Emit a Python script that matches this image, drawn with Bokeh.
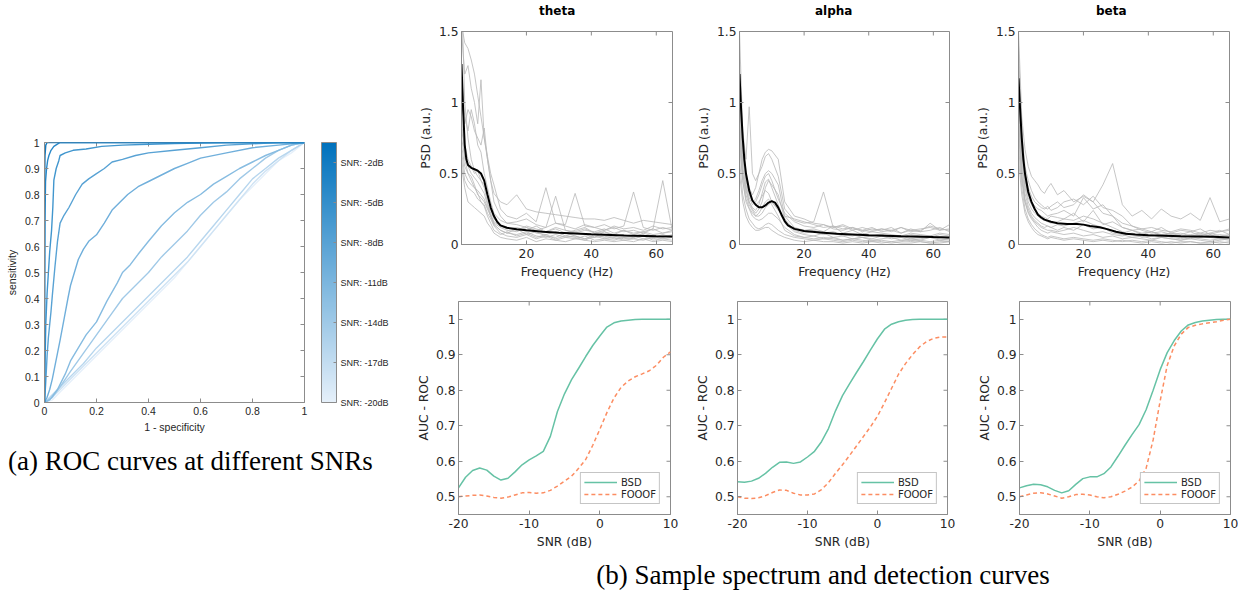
import numpy as np
from bokeh.plotting import figure
from bokeh.models import (Range1d, FixedTicker, NumeralTickFormatter, ColorBar,
                          LinearColorMapper, Div, Spacer, Legend, LegendItem, ColumnDataSource)
from bokeh.layouts import row, column
from bokeh.transform import linear_cmap
from bokeh.embed import file_html
from bokeh.resources import INLINE

# ---------------- data: ROC curves ----------------
roc_snr = [-20, -18, -16, -14, -12, -10, -8, -6, -4, -2]
roc_fpr = [
    [0, 0.03, 0.06, 0.1, 0.15, 0.2, 0.25, 0.3, 0.35, 0.4, 0.45, 0.5, 0.55, 0.6, 0.65, 0.7, 0.75, 0.8, 0.85, 0.9, 0.95, 1],
    [0, 0.03, 0.06, 0.1, 0.15, 0.2, 0.25, 0.3, 0.35, 0.4, 0.45, 0.5, 0.55, 0.6, 0.65, 0.7, 0.75, 0.8, 0.85, 0.9, 0.95, 1],
    [0, 0.03, 0.06, 0.1, 0.15, 0.2, 0.25, 0.3, 0.35, 0.4, 0.45, 0.5, 0.55, 0.6, 0.65, 0.7, 0.75, 0.8, 0.85, 0.9, 0.95, 1],
    [0, 0.03, 0.06, 0.1, 0.15, 0.2, 0.25, 0.3, 0.35, 0.4, 0.45, 0.5, 0.55, 0.6, 0.65, 0.7, 0.75, 0.8, 0.85, 0.9, 0.95, 1],
    [0, 0.02, 0.05, 0.08, 0.1, 0.13, 0.16, 0.2, 0.24, 0.28, 0.3, 0.33, 0.36, 0.4, 0.45, 0.5, 0.55, 0.6, 0.65, 0.7, 0.75, 0.8, 0.85, 0.9, 0.95, 1],
    [0, 0.01, 0.02, 0.03, 0.04, 0.05, 0.06, 0.075, 0.09, 0.1, 0.115, 0.13, 0.15, 0.17, 0.2, 0.23, 0.26, 0.29, 0.32, 0.36, 0.4, 0.45, 0.5, 0.55, 0.6, 0.7, 0.8, 0.9, 1],
    [0, 0.005, 0.01, 0.015, 0.02, 0.025, 0.03, 0.04, 0.05, 0.06, 0.075, 0.094, 0.12, 0.145, 0.17, 0.2, 0.23, 0.26, 0.3, 0.35, 0.4, 0.5, 0.6, 0.7, 0.8, 0.9, 1],
    [0, 0.002, 0.005, 0.01, 0.015, 0.02, 0.027, 0.032, 0.036, 0.045, 0.055, 0.06, 0.08, 0.11, 0.16, 0.22, 0.3, 0.4, 0.5, 0.6, 0.7, 0.8, 0.9, 1],
    [0, 0.001, 0.002, 0.004, 0.008, 0.012, 0.017, 0.025, 0.036, 0.048, 0.06, 1],
    [0, 0, 0.002, 0.005, 0.01, 1],
]
roc_tpr = [
    [0, 0.01, 0.04, 0.08, 0.13, 0.18, 0.23, 0.28, 0.33, 0.38, 0.43, 0.48, 0.54, 0.6, 0.66, 0.72, 0.78, 0.83, 0.88, 0.93, 0.96, 1],
    [0, 0.02, 0.05, 0.09, 0.14, 0.19, 0.24, 0.29, 0.34, 0.39, 0.44, 0.49, 0.54, 0.6, 0.66, 0.72, 0.78, 0.84, 0.89, 0.93, 0.97, 1],
    [0, 0.03, 0.06, 0.1, 0.15, 0.21, 0.26, 0.31, 0.36, 0.41, 0.46, 0.51, 0.56, 0.62, 0.68, 0.74, 0.8, 0.86, 0.9, 0.94, 0.97, 1],
    [0, 0.02, 0.06, 0.12, 0.19, 0.26, 0.33, 0.4, 0.45, 0.5, 0.56, 0.61, 0.66, 0.72, 0.77, 0.81, 0.86, 0.9, 0.94, 0.97, 0.99, 1],
    [0, 0.01, 0.05, 0.11, 0.16, 0.21, 0.26, 0.31, 0.39, 0.46, 0.5, 0.53, 0.57, 0.62, 0.68, 0.73, 0.77, 0.8, 0.84, 0.87, 0.9, 0.925, 0.95, 0.97, 0.99, 1],
    [0, 0.02, 0.05, 0.09, 0.14, 0.19, 0.24, 0.32, 0.4, 0.45, 0.5, 0.55, 0.59, 0.62, 0.645, 0.69, 0.74, 0.77, 0.8, 0.83, 0.85, 0.875, 0.9, 0.92, 0.94, 0.96, 0.98, 0.99, 1],
    [0, 0.08, 0.18, 0.25, 0.3, 0.35, 0.41, 0.52, 0.62, 0.69, 0.72, 0.75, 0.8, 0.84, 0.86, 0.88, 0.9, 0.925, 0.935, 0.95, 0.96, 0.97, 0.98, 0.99, 0.995, 1, 1],
    [0, 0.15, 0.3, 0.42, 0.5, 0.58, 0.66, 0.75, 0.855, 0.9, 0.93, 0.95, 0.96, 0.97, 0.975, 0.985, 0.99, 0.993, 0.996, 0.998, 1, 1, 1, 1],
    [0, 0.45, 0.7, 0.85, 0.9, 0.93, 0.95, 0.97, 0.985, 0.993, 1, 1],
    [0, 0.8, 0.95, 0.99, 1, 1],
]
cbar_ticks = [-20, -17, -14, -11, -8, -5, -2]
cbar_labels = ["SNR: -20dB", "SNR: -17dB", "SNR: -14dB", "SNR: -11dB", "SNR: -8dB", "SNR: -5dB", "SNR: -2dB"]

# ---------------- data: spectra ----------------
psd_freq = [0, 1, 2, 3, 4, 5, 6, 7, 8, 9, 10, 12, 14, 17, 20, 23, 26, 29, 32, 35, 38, 41, 44, 47, 50, 53, 56, 59, 62, 65]

theta_traces = [
    [1.55, 1.42, 1.38, 1.3, 1.2, 1.05, 0.9, 0.75, 0.6, 0.45, 0.36, 0.3, 0.28, 0.35, 0.25, 0.23, 0.22, 0.21, 0.2, 0.19, 0.18, 0.18, 0.17, 0.19, 0.17, 0.15, 0.17, 0.16, 0.15, 0.14],
    [1.5, 1.2, 1.26, 1.1, 1.0, 0.85, 1.16, 0.75, 0.62, 0.5, 0.42, 0.25, 0.2, 0.18, 0.22, 0.16, 0.4, 0.15, 0.14, 0.36, 0.13, 0.12, 0.14, 0.11, 0.13, 0.37, 0.12, 0.1, 0.12, 0.1],
    [1.0, 0.85, 0.95, 0.9, 0.8, 0.75, 0.7, 0.82, 0.6, 0.45, 0.3, 0.2, 0.15, 0.14, 0.12, 0.1, 0.12, 0.34, 0.1, 0.09, 0.11, 0.08, 0.1, 0.12, 0.09, 0.1, 0.08, 0.11, 0.45, 0.09],
    [0.8, 0.7, 0.6, 0.55, 0.5, 0.52, 0.45, 0.4, 0.3, 0.22, 0.15, 0.12, 0.1, 0.09, 0.12, 0.08, 0.07, 0.09, 0.06, 0.08, 0.07, 0.05, 0.09, 0.06, 0.07, 0.05, 0.08, 0.06, 0.05, 0.07],
    [0.7, 0.55, 0.5, 0.48, 0.42, 0.35, 0.33, 0.3, 0.25, 0.2, 0.14, 0.1, 0.08, 0.11, 0.07, 0.09, 0.06, 0.05, 0.08, 0.06, 0.04, 0.07, 0.05, 0.06, 0.04, 0.05, 0.07, 0.04, 0.06, 0.05],
    [0.6, 0.45, 0.4, 0.38, 0.36, 0.32, 0.3, 0.28, 0.22, 0.18, 0.13, 0.08, 0.06, 0.05, 0.07, 0.04, 0.06, 0.03, 0.05, 0.04, 0.06, 0.03, 0.04, 0.05, 0.03, 0.04, 0.03, 0.05, 0.04, 0.03],
    [0.9, 0.6, 0.5, 0.45, 0.4, 0.38, 0.35, 0.32, 0.26, 0.2, 0.16, 0.13, 0.11, 0.12, 0.1, 0.13, 0.09, 0.11, 0.08, 0.1, 0.12, 0.08, 0.09, 0.07, 0.1, 0.08, 0.09, 0.07, 0.08, 0.09],
    [0.55, 0.4, 0.3, 0.28, 0.26, 0.24, 0.22, 0.2, 0.15, 0.12, 0.08, 0.05, 0.04, 0.03, 0.05, 0.02, 0.04, 0.03, 0.02, 0.04, 0.03, 0.02, 0.03, 0.02, 0.03, 0.02, 0.04, 0.02, 0.03, 0.02],
    [1.2, 0.9, 0.8, 0.95, 0.85, 0.7, 0.65, 0.5, 0.4, 0.3, 0.22, 0.17, 0.15, 0.16, 0.18, 0.14, 0.12, 0.15, 0.13, 0.11, 0.14, 0.12, 0.1, 0.13, 0.11, 0.12, 0.1, 0.13, 0.11, 0.12],
    [0.65, 0.5, 0.45, 0.42, 0.4, 0.36, 0.3, 0.27, 0.2, 0.15, 0.1, 0.07, 0.09, 0.06, 0.08, 0.05, 0.07, 0.04, 0.06, 0.05, 0.03, 0.06, 0.04, 0.03, 0.05, 0.04, 0.06, 0.03, 0.04, 0.05],
    [1.8, 1.0, 0.75, 0.6, 0.52, 0.48, 0.45, 0.42, 0.35, 0.25, 0.18, 0.13, 0.12, 0.1, 0.13, 0.11, 0.09, 0.12, 0.1, 0.08, 0.1, 0.09, 0.11, 0.08, 0.1, 0.07, 0.09, 0.11, 0.08, 0.1],
    [0.75, 0.62, 0.55, 0.5, 0.47, 0.44, 0.4, 0.36, 0.28, 0.2, 0.14, 0.1, 0.08, 0.07, 0.09, 0.06, 0.05, 0.07, 0.05, 0.06, 0.04, 0.05, 0.06, 0.04, 0.05, 0.06, 0.04, 0.05, 0.07, 0.05],
]
alpha_traces = [
    [1.5, 0.8, 0.6, 0.97, 0.5, 0.45, 0.5, 0.6, 0.65, 0.67, 0.66, 0.6, 0.3, 0.2, 0.18, 0.15, 0.14, 0.12, 0.13, 0.1, 0.12, 0.1, 0.11, 0.09, 0.12, 0.1, 0.11, 0.12, 0.1, 0.11],
    [1.3, 0.7, 0.5, 0.4, 0.35, 0.4, 0.5, 0.55, 0.62, 0.64, 0.6, 0.48, 0.25, 0.17, 0.15, 0.16, 0.37, 0.12, 0.14, 0.11, 0.1, 0.12, 0.09, 0.1, 0.08, 0.11, 0.09, 0.1, 0.12, 0.09],
    [1.0, 0.6, 0.45, 0.35, 0.3, 0.32, 0.38, 0.45, 0.5, 0.52, 0.5, 0.42, 0.2, 0.12, 0.1, 0.11, 0.09, 0.13, 0.08, 0.1, 0.07, 0.09, 0.08, 0.07, 0.06, 0.08, 0.07, 0.06, 0.08, 0.07],
    [0.9, 0.55, 0.4, 0.3, 0.25, 0.22, 0.25, 0.3, 0.4, 0.45, 0.42, 0.35, 0.18, 0.1, 0.08, 0.09, 0.07, 0.08, 0.06, 0.07, 0.05, 0.06, 0.07, 0.05, 0.06, 0.04, 0.05, 0.06, 0.05, 0.04],
    [0.8, 0.5, 0.35, 0.28, 0.24, 0.2, 0.2, 0.22, 0.26, 0.28, 0.3, 0.25, 0.15, 0.09, 0.07, 0.06, 0.08, 0.05, 0.06, 0.04, 0.05, 0.04, 0.06, 0.04, 0.05, 0.03, 0.04, 0.05, 0.03, 0.04],
    [0.7, 0.45, 0.3, 0.25, 0.2, 0.18, 0.17, 0.18, 0.2, 0.22, 0.22, 0.18, 0.12, 0.07, 0.05, 0.04, 0.05, 0.04, 0.03, 0.04, 0.03, 0.02, 0.03, 0.02, 0.03, 0.02, 0.03, 0.02, 0.03, 0.02],
    [1.1, 0.65, 0.42, 0.33, 0.28, 0.3, 0.35, 0.42, 0.48, 0.5, 0.45, 0.32, 0.22, 0.16, 0.13, 0.12, 0.14, 0.11, 0.1, 0.12, 0.09, 0.11, 0.1, 0.12, 0.08, 0.1, 0.09, 0.15, 0.1, 0.14],
    [0.6, 0.35, 0.25, 0.18, 0.15, 0.12, 0.11, 0.12, 0.14, 0.15, 0.14, 0.1, 0.07, 0.05, 0.04, 0.03, 0.04, 0.03, 0.02, 0.03, 0.02, 0.03, 0.02, 0.01, 0.02, 0.03, 0.02, 0.01, 0.02, 0.02],
    [1.2, 0.7, 0.48, 0.38, 0.3, 0.28, 0.3, 0.34, 0.38, 0.36, 0.3, 0.24, 0.2, 0.18, 0.16, 0.14, 0.12, 0.13, 0.11, 0.12, 0.1, 0.09, 0.11, 0.1, 0.12, 0.09, 0.1, 0.13, 0.11, 0.1],
    [0.75, 0.45, 0.32, 0.26, 0.22, 0.2, 0.22, 0.26, 0.3, 0.32, 0.28, 0.2, 0.1, 0.06, 0.05, 0.06, 0.04, 0.05, 0.03, 0.04, 0.05, 0.03, 0.04, 0.05, 0.03, 0.04, 0.03, 0.05, 0.04, 0.03],
    [0.85, 0.5, 0.38, 0.3, 0.26, 0.24, 0.28, 0.36, 0.44, 0.46, 0.4, 0.28, 0.16, 0.11, 0.09, 0.1, 0.08, 0.09, 0.07, 0.06, 0.08, 0.06, 0.07, 0.06, 0.05, 0.07, 0.06, 0.05, 0.07, 0.06],
    [0.5, 0.3, 0.2, 0.15, 0.12, 0.1, 0.1, 0.11, 0.12, 0.12, 0.1, 0.07, 0.05, 0.03, 0.02, 0.03, 0.02, 0.02, 0.01, 0.02, 0.01, 0.02, 0.01, 0.02, 0.01, 0.01, 0.02, 0.01, 0.01, 0.02],
]
beta_traces = [
    [1.5, 0.9, 0.67, 0.55, 0.48, 0.45, 0.42, 0.38, 0.36, 0.4, 0.43, 0.35, 0.38, 0.3, 0.34, 0.3, 0.42, 0.57, 0.28, 0.2, 0.24, 0.18, 0.25, 0.2, 0.18, 0.22, 0.17, 0.33, 0.16, 0.18],
    [1.4, 0.8, 0.55, 0.45, 0.38, 0.33, 0.3, 0.28, 0.26, 0.25, 0.27, 0.3, 0.26, 0.28, 0.35, 0.3, 0.22, 0.2, 0.15, 0.13, 0.11, 0.12, 0.1, 0.09, 0.11, 0.1, 0.08, 0.1, 0.09, 0.11],
    [1.2, 0.7, 0.45, 0.35, 0.3, 0.27, 0.25, 0.24, 0.22, 0.2, 0.21, 0.22, 0.24, 0.2, 0.33, 0.25, 0.28, 0.2, 0.12, 0.1, 0.08, 0.09, 0.07, 0.08, 0.06, 0.07, 0.08, 0.06, 0.07, 0.06],
    [1.0, 0.6, 0.4, 0.3, 0.25, 0.22, 0.2, 0.18, 0.17, 0.16, 0.15, 0.16, 0.18, 0.17, 0.2, 0.18, 0.15, 0.12, 0.09, 0.07, 0.06, 0.07, 0.05, 0.06, 0.05, 0.04, 0.06, 0.05, 0.04, 0.05],
    [0.9, 0.5, 0.32, 0.25, 0.2, 0.17, 0.15, 0.13, 0.12, 0.13, 0.12, 0.1, 0.12, 0.1, 0.14, 0.11, 0.12, 0.08, 0.07, 0.05, 0.06, 0.04, 0.05, 0.04, 0.03, 0.05, 0.04, 0.03, 0.04, 0.03],
    [1.1, 0.65, 0.42, 0.33, 0.28, 0.24, 0.22, 0.2, 0.19, 0.18, 0.2, 0.19, 0.18, 0.22, 0.16, 0.24, 0.14, 0.16, 0.12, 0.1, 0.11, 0.09, 0.12, 0.08, 0.1, 0.09, 0.11, 0.07, 0.09, 0.1],
    [0.8, 0.45, 0.3, 0.22, 0.18, 0.15, 0.12, 0.1, 0.09, 0.08, 0.09, 0.08, 0.07, 0.08, 0.06, 0.07, 0.05, 0.06, 0.04, 0.05, 0.04, 0.03, 0.05, 0.04, 0.03, 0.04, 0.03, 0.02, 0.03, 0.04],
    [0.7, 0.4, 0.25, 0.18, 0.14, 0.11, 0.09, 0.07, 0.06, 0.05, 0.06, 0.05, 0.04, 0.05, 0.04, 0.03, 0.04, 0.03, 0.02, 0.03, 0.02, 0.03, 0.02, 0.01, 0.02, 0.02, 0.01, 0.02, 0.01, 0.02],
    [1.3, 0.75, 0.5, 0.4, 0.34, 0.3, 0.28, 0.26, 0.25, 0.27, 0.24, 0.26, 0.3, 0.32, 0.28, 0.34, 0.26, 0.24, 0.2, 0.13, 0.1, 0.08, 0.09, 0.07, 0.08, 0.06, 0.07, 0.08, 0.06, 0.07],
    [0.95, 0.55, 0.36, 0.27, 0.22, 0.19, 0.17, 0.15, 0.14, 0.13, 0.12, 0.14, 0.13, 0.15, 0.17, 0.14, 0.12, 0.1, 0.08, 0.1, 0.07, 0.09, 0.06, 0.08, 0.07, 0.09, 0.06, 0.08, 0.1, 0.07],
    [0.85, 0.48, 0.3, 0.23, 0.19, 0.16, 0.14, 0.12, 0.11, 0.1, 0.1, 0.09, 0.1, 0.12, 0.1, 0.08, 0.09, 0.07, 0.06, 0.08, 0.05, 0.06, 0.07, 0.05, 0.04, 0.06, 0.05, 0.07, 0.04, 0.05],
    [0.6, 0.35, 0.22, 0.16, 0.12, 0.09, 0.07, 0.06, 0.05, 0.04, 0.05, 0.04, 0.03, 0.04, 0.03, 0.02, 0.03, 0.02, 0.03, 0.02, 0.01, 0.02, 0.01, 0.02, 0.01, 0.02, 0.01, 0.01, 0.02, 0.01],
]

theta_mean_freq = [0, 0.5, 1, 1.5, 2, 3, 4, 5, 6, 7, 8, 9, 10, 11, 12, 14, 17, 20, 25, 30, 40, 50, 60, 65]
theta_mean = [1.27, 0.95, 0.70, 0.6, 0.56, 0.54, 0.53, 0.52, 0.5, 0.45, 0.35, 0.26, 0.2, 0.16, 0.135, 0.118, 0.107, 0.1, 0.09, 0.082, 0.072, 0.064, 0.058, 0.056]
alpha_mean_freq = [0, 0.5, 1, 1.5, 2, 3, 4, 5, 6, 7, 8, 9, 10, 11, 12, 13, 14, 15, 17, 20, 25, 30, 40, 50, 60, 65]
alpha_mean = [1.2, 0.95, 0.75, 0.6, 0.5, 0.38, 0.31, 0.28, 0.262, 0.262, 0.275, 0.295, 0.305, 0.295, 0.26, 0.21, 0.165, 0.135, 0.11, 0.095, 0.085, 0.075, 0.065, 0.058, 0.052, 0.05]
beta_mean_freq = [0, 0.5, 1, 1.5, 2, 3, 4, 5, 6, 7, 8, 10, 12, 15, 18, 20, 22, 25, 27, 30, 33, 36, 40, 50, 60, 65]
beta_mean = [1.17, 0.95, 0.75, 0.6, 0.5, 0.37, 0.3, 0.25, 0.21, 0.19, 0.175, 0.16, 0.15, 0.145, 0.145, 0.14, 0.13, 0.122, 0.11, 0.09, 0.075, 0.07, 0.065, 0.058, 0.055, 0.05]

# ---------------- data: AUC curves ----------------
auc_snr = [-20, -19, -18, -17, -16, -15, -14, -13, -12, -11, -10, -9, -8, -7, -6, -5, -4, -3, -2, -1, 0, 1, 2, 3, 4, 5, 6, 7, 8, 9, 10]
theta_bsd = [0.525, 0.555, 0.574, 0.581, 0.575, 0.558, 0.547, 0.552, 0.57, 0.59, 0.604, 0.615, 0.628, 0.67, 0.74, 0.79, 0.83, 0.862, 0.895, 0.926, 0.953, 0.978, 0.99, 0.995, 0.997, 0.999, 1.0, 1.0, 1.0, 1.0, 1.0]
theta_fooof = [0.5, 0.502, 0.504, 0.505, 0.502, 0.498, 0.496, 0.499, 0.505, 0.511, 0.512, 0.51, 0.511, 0.518, 0.53, 0.544, 0.558, 0.58, 0.605, 0.645, 0.69, 0.737, 0.778, 0.808, 0.826, 0.838, 0.846, 0.855, 0.87, 0.893, 0.908]
alpha_bsd = [0.542, 0.541, 0.544, 0.552, 0.566, 0.583, 0.597, 0.598, 0.594, 0.598, 0.612, 0.628, 0.655, 0.692, 0.742, 0.785, 0.818, 0.85, 0.881, 0.914, 0.945, 0.972, 0.986, 0.993, 0.997, 0.999, 1.0, 1.0, 1.0, 1.0, 1.0]
alpha_fooof = [0.5, 0.496, 0.495, 0.497, 0.503, 0.512, 0.519, 0.518, 0.51, 0.505, 0.505, 0.508, 0.52, 0.54, 0.566, 0.59, 0.616, 0.643, 0.67, 0.697, 0.727, 0.765, 0.805, 0.845, 0.875, 0.9, 0.922, 0.937, 0.946, 0.95, 0.95]
beta_bsd = [0.525, 0.531, 0.535, 0.534, 0.528, 0.518, 0.511, 0.517, 0.535, 0.551, 0.556, 0.556, 0.565, 0.584, 0.614, 0.645, 0.675, 0.703, 0.745, 0.8, 0.858, 0.906, 0.94, 0.967, 0.984, 0.991, 0.995, 0.997, 0.999, 1.0, 1.0]
beta_fooof = [0.5, 0.505, 0.51, 0.511, 0.508, 0.502, 0.496, 0.5, 0.506, 0.507, 0.505, 0.5, 0.497, 0.5, 0.507, 0.516, 0.527, 0.545, 0.58, 0.66, 0.77, 0.87, 0.925, 0.958, 0.977, 0.983, 0.987, 0.99, 0.993, 0.997, 1.0]

band_names = ["theta", "alpha", "beta"]
series_names = ["BSD", "FOOOF"]

# ---------------- styles ----------------
AXC = "#8c8c8c"
TXT = "#262626"
SANS = "DejaVu Sans"
ROCF = "Liberation Sans"
FS = "12.3px"
GREEN = "#66c2a5"
ORANGE = "#fc8d62"
c0 = np.array([230, 240, 250]); c1 = np.array([0, 114, 189])
palette = ['#%02x%02x%02x' % tuple(int(round(v)) for v in c0 + (c1 - c0) * t) for t in np.linspace(0, 1, 256)]
CLO, CHI = -20, -0.5


def make_fig(fw, fh, xr, yr, bl, br, bt, bb):
    p = figure(frame_width=fw, frame_height=fh, x_range=Range1d(*xr), y_range=Range1d(*yr),
               output_backend="svg", toolbar_location=None,
               min_border_left=bl, min_border_right=br, min_border_top=bt, min_border_bottom=bb)
    p.xgrid.visible = False
    p.ygrid.visible = False
    p.outline_line_color = AXC
    p.background_fill_color = "white"
    p.border_fill_color = "white"
    return p


def style_axis(ax, ticks, fmt, font, size, label, ls=3, als=3):
    ax.ticker = FixedTicker(ticks=ticks)
    ax.formatter = NumeralTickFormatter(format=fmt)
    ax.major_tick_in = 4
    ax.major_tick_out = 0
    ax.minor_tick_line_color = None
    ax.axis_line_color = AXC
    ax.major_tick_line_color = AXC
    ax.major_label_text_font = font
    ax.major_label_text_font_size = size
    ax.major_label_text_color = TXT
    ax.axis_label = label
    ax.axis_label_text_font = font
    ax.axis_label_text_font_size = size
    ax.axis_label_text_font_style = "normal"
    ax.axis_label_text_color = TXT
    ax.major_label_standoff = ls
    ax.axis_label_standoff = als


def mirror(p, xr, yr, fw, fh, xticks, yticks, tick_px=4):
    # inward tick marks on the top and right edges of the box
    dy = (yr[1] - yr[0]) * tick_px / fh
    dx = (xr[1] - xr[0]) * tick_px / fw
    nx, ny = len(xticks), len(yticks)
    p.segment(x0=xticks, y0=[yr[1]] * nx, x1=xticks, y1=[yr[1] - dy] * nx, line_color=AXC, line_width=1)
    p.segment(x0=[xr[1]] * ny, y0=yticks, x1=[xr[1] - dx] * ny, y1=yticks, line_color=AXC, line_width=1)


# ---------------- ROC panel ----------------
ROC_X = [0, 0.2, 0.4, 0.6, 0.8, 1]
ROC_Y = [0, 0.1, 0.2, 0.3, 0.4, 0.5, 0.6, 0.7, 0.8, 0.9, 1]
roc = make_fig(260, 260, (0, 1), (0, 1), 40, 98, 10, 40)
style_axis(roc.xaxis[0], ROC_X, "0.[0]", ROCF, "10.5px", "1 - specificity", 4, 3)
style_axis(roc.yaxis[0], ROC_Y, "0.[0]", ROCF, "10.5px", "sensitivity", 5, 4)
mirror(roc, (0, 1), (0, 1), 260, 260, ROC_X, ROC_Y)
roc_src = ColumnDataSource(dict(xs=roc_fpr, ys=roc_tpr, snr=roc_snr))
roc.multi_line("xs", "ys", source=roc_src, line_width=1.4,
               line_color=linear_cmap("snr", palette, CLO, CHI))
mapper = LinearColorMapper(palette=palette, low=CLO, high=CHI)
cbar = ColorBar(color_mapper=mapper, ticker=FixedTicker(ticks=cbar_ticks),
                major_label_overrides={t: l for t, l in zip(cbar_ticks, cbar_labels)},
                width=15, height=260, padding=0, margin=0, location=(17, 0),
                bar_line_color=AXC, major_tick_line_color=AXC, major_tick_in=3, major_tick_out=0,
                minor_tick_line_color=None, major_label_text_font=ROCF,
                major_label_text_font_size="9px", major_label_text_color=TXT,
                label_standoff=4, background_fill_color=None, border_line_color=None)
roc.add_layout(cbar, "right")

# ---------------- PSD panels ----------------
psd_specs = [
    (theta_traces, theta_mean_freq, theta_mean, 211, 59, 20),
    (alpha_traces, alpha_mean_freq, alpha_mean, 210, 47, 23),
    (beta_traces, beta_mean_freq, beta_mean, 211, 43, 6),
]
psd_figs = []
for name, (traces, mf, mv, fw, bl, br) in zip(band_names, psd_specs):
    p = make_fig(fw, 213, (0, 65), (0, 1.5), bl, br, 11, 46)
    style_axis(p.xaxis[0], [20, 40, 60], "0", SANS, FS, "Frequency (Hz)", 4, 4)
    style_axis(p.yaxis[0], [0, 0.5, 1, 1.5], "0.[0]", SANS, FS, "PSD (a.u.)", 3, 3)
    mirror(p, (0, 65), (0, 1.5), fw, 213, [20, 40, 60], [0, 0.5, 1, 1.5])
    p.multi_line([psd_freq[:len(t)] for t in traces], traces, line_color="#b8b8b8", line_width=0.8)
    p.line(mf, mv, line_color="black", line_width=2)
    psd_figs.append(p)

# panel titles (bold, above each spectrum panel)
title_w = [290, 280, 260]
title_indent = [137, 123, 124]
title_divs = [Div(text=n, width=w, height=20, margin=0,
                  styles={"font-family": SANS, "font-size": "12px", "font-weight": "bold",
                          "line-height": "22px", "text-indent": "%dpx" % ind,
                          "white-space": "nowrap", "color": "black"})
              for n, w, ind in zip(band_names, title_w, title_indent)]

# ---------------- AUC panels ----------------
auc_specs = [
    (theta_bsd, theta_fooof, 212, 56, 22),
    (alpha_bsd, alpha_fooof, 210, 43, 27),
    (beta_bsd, beta_fooof, 211, 40, 9),
]
AUC_X = [-20, -10, 0, 10]
AUC_Y = [0.5, 0.6, 0.7, 0.8, 0.9, 1]
auc_figs = []
for bsd, fooof, fw, bl, br in auc_specs:
    p = make_fig(fw, 213, (-20, 10), (0.45, 1.05), bl, br, 11, 40)
    style_axis(p.xaxis[0], AUC_X, "0", SANS, FS, "SNR (dB)", 4, 4)
    style_axis(p.yaxis[0], AUC_Y, "0.[0]", SANS, FS, "AUC - ROC", 3, 2)
    mirror(p, (-20, 10), (0.45, 1.05), fw, 213, AUC_X, AUC_Y)
    r1 = p.line(auc_snr, bsd, line_color=GREEN, line_width=1.5)
    r2 = p.line(auc_snr, fooof, line_color=ORANGE, line_width=1.5, line_dash="4 3")
    leg = Legend(items=[LegendItem(label=series_names[0], renderers=[r1]),
                        LegendItem(label=series_names[1], renderers=[r2])],
                 location="bottom_right", margin=10, padding=3, spacing=0,
                 glyph_width=33, glyph_height=12, label_height=12, label_standoff=4,
                 label_text_font=SANS, label_text_font_size="10px", label_text_color=TXT,
                 label_text_line_height=1.0,
                 border_line_color=AXC, background_fill_alpha=1)
    p.add_layout(leg)
    auc_figs.append(p)

# ---------------- captions ----------------
cap_style = {"font-family": "Liberation Serif", "font-size": "27px", "line-height": "28px",
             "color": "black", "white-space": "nowrap"}
cap_a = Div(text="(a) ROC curves at different SNRs", width=396, height=40, margin=0,
            styles=dict(cap_style, **{"padding-top": "5px", "padding-left": "6px"}))
cap_b = Div(text="(b) Sample spectrum and detection curves", width=830, height=36, margin=0,
            styles=dict(cap_style, **{"padding-top": "7px", "text-align": "center", "padding-left": "12px"}))

left = column(Spacer(width=396, height=132), roc, cap_a)
right = column(row(*title_divs), row(*psd_figs), row(*auc_figs), cap_b)
layout = row(Spacer(width=2, height=10), left, right)

open("out.html", "w").write(file_html(layout, INLINE))
